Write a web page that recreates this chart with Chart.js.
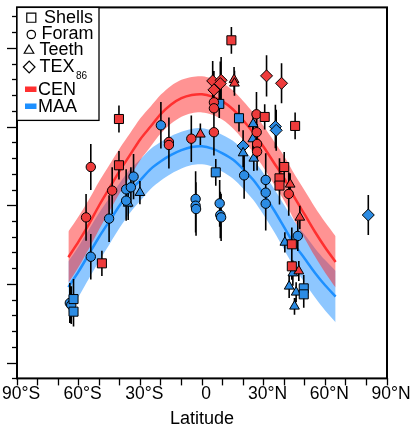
<!DOCTYPE html>
<html>
<head>
<meta charset="utf-8">
<script src="https://cdn.jsdelivr.net/npm/chart.js@4/dist/chart.umd.min.js"></script>
<style>
  body { margin: 0; background: #fff; }
</style>
</head>
<body>
<canvas id="grafico" width="414" height="432"></canvas>
<script>
// fitted curves (read every 5 degrees of latitude)
const curveLat = [-65, -60, -55, -50, -45, -40, -35, -30, -25, -20, -15, -10, -5, 0, 5, 10, 15, 20, 25, 30, 35, 40, 45, 50, 55, 60, 65];
const cenMid = [11.7, 12.7, 13.8, 15.0, 16.1, 17.2, 18.2, 19.2, 20.0, 20.8, 21.4, 21.8, 22.0, 22.05, 21.9, 21.6, 21.1, 20.4, 19.6, 18.7, 17.7, 16.7, 15.5, 14.4, 13.3, 12.3, 11.4];
const cenUpper = [13.33, 14.3, 15.36, 16.52, 17.57, 18.62, 19.57, 20.52, 21.27, 22.03, 22.6, 22.97, 23.15, 23.2, 23.05, 22.77, 22.3, 21.63, 20.87, 20.02, 19.07, 18.12, 16.97, 15.92, 14.86, 13.9, 13.03];
const cenLower = [10.07, 11.1, 12.24, 13.48, 14.63, 15.78, 16.83, 17.88, 18.73, 19.57, 20.2, 20.63, 20.85, 20.9, 20.75, 20.43, 19.9, 19.17, 18.33, 17.38, 16.33, 15.28, 14.03, 12.88, 11.74, 10.7, 9.77];
const maaMid = [9.8, 10.8, 11.9, 13.0, 14.0, 15.0, 15.9, 16.6, 17.3, 17.8, 18.2, 18.5, 18.7, 18.75, 18.6, 18.3, 17.9, 17.3, 16.6, 15.7, 14.7, 13.6, 12.5, 11.6, 10.7, 9.9, 9.2];
const maaUpper = [11.43, 12.4, 13.46, 14.52, 15.47, 16.42, 17.27, 17.92, 18.57, 19.03, 19.4, 19.67, 19.85, 19.9, 19.75, 19.47, 19.1, 18.53, 17.87, 17.02, 16.07, 15.02, 13.97, 13.12, 12.26, 11.5, 10.83];
const maaLower = [8.17, 9.2, 10.34, 11.48, 12.53, 13.58, 14.53, 15.28, 16.03, 16.57, 17.0, 17.33, 17.55, 17.6, 17.45, 17.13, 16.7, 16.07, 15.33, 14.38, 13.33, 12.18, 11.03, 10.08, 9.14, 8.3, 7.57];

// MAA proxy points
const maaLat = [-64.3, -63.6, -62.5, -62.5, -54.1, -45.2, -36.9, -36.9, -35.9, -34.6, -33.3, -30.2, -20.0, -3.1, -3.1, -2.9, 8.4, 6.7, 8.6, 8.9, 9.3, 18.0, 20.0, 20.0, 20.5, 24.9, 24.7, 25.2, 35.7, 36.1, 31.0, 31.0, 31.0, 80.9, 40.3, 46.6, 42.4, 45.8, 45.0, 49.5, 49.5, 44.2];
const maaTemp = [8.79, 8.66, 9.04, 8.24, 11.73, 14.15, 16.01, 15.29, 15.12, 16.14, 16.82, 15.8, 20.08, 15.4, 14.97, 14.76, 21.44, 17.09, 15.12, 14.38, 14.23, 20.53, 18.77, 18.32, 16.9, 20.17, 19.21, 17.98, 20.0, 19.76, 16.61, 15.8, 15.1, 14.38, 12.64, 13.05, 9.85, 9.47, 8.58, 9.72, 9.34, 10.69];
const maaErr = [1.27, 1.2, 1.27, 0.95, 1.44, 1.48, 1.27, 1.27, 1.06, 1.27, 1.44, 0.74, 1.48, 1.76, 1.7, 1.7, 0.9, 0.85, 1.48, 1.48, 1.5, 0.85, 1.0, 0.9, 1.48, 0.8, 0.8, 0.8, 1.38, 1.3, 1.7, 1.7, 1.7, 1.27, 0.64, 0.95, 0.74, 0.64, 0.53, 0.85, 0.85, 0.8];
const maaProxy = ["foram", "foram", "shell", "shell", "foram", "foram", "foram", "foram", "teeth", "foram", "foram", "teeth", "foram", "foram", "foram", "foram", "shell", "shell", "foram", "foram", "foram", "shell", "tex", "teeth", "foram", "teeth", "teeth", "teeth", "tex", "tex", "foram", "foram", "foram", "tex", "teeth", "foram", "teeth", "teeth", "teeth", "shell", "shell", "teeth"];

// CEN proxy points
const cenLat = [-56.4, -54.1, -48.7, -43.7, -40.4, -40.4, -16.1, -16.1, -5.2, -0.8, 5.8, 5.8, 5.8, 5.2, 5.8, 9.3, 8.9, 14.3, 15.6, 15.8, 31.4, 38.7, 26.5, 30.5, 26.6, 26.8, 26.8, 45.3, 40.0, 37.7, 37.7, 42.9, 42.2, 47.6, 43.7, 43.7, 47.1];
const cenTemp = [14.23, 17.43, 11.31, 15.93, 20.48, 17.54, 19.02, 18.83, 19.23, 19.51, 19.64, 21.54, 21.16, 22.9, 22.33, 22.94, 22.73, 25.48, 22.98, 22.75, 23.22, 22.75, 20.78, 20.61, 19.64, 18.89, 18.41, 20.04, 17.43, 16.71, 16.25, 16.33, 15.72, 14.23, 12.52, 11.12, 10.82];
const cenErr = [1.48, 1.46, 0.8, 1.48, 0.85, 0.9, 1.55, 1.5, 1.48, 0.68, 1.48, 1.38, 1.38, 1.27, 1.2, 1.48, 1.4, 0.85, 0.8, 0.8, 1.31, 1.27, 1.42, 0.8, 1.27, 1.27, 1.2, 0.85, 0.95, 1.27, 1.2, 0.7, 1.38, 0.74, 1.06, 0.85, 0.64];
const cenProxy = ["foram", "foram", "shell", "foram", "shell", "shell", "foram", "foram", "foram", "teeth", "foram", "foram", "foram", "tex", "tex", "tex", "tex", "shell", "teeth", "teeth", "tex", "tex", "foram", "shell", "foram", "foram", "foram", "shell", "shell", "shell", "shell", "teeth", "foram", "teeth", "shell", "shell", "teeth"];

const latTicks = [-90, -60, -30, 0, 30, 60, 90];
const latLabels = ["90°S", "60°S", "30°S", "0", "30°N", "60°N", "90°N"];

const FONT = "'Liberation Sans', Arial, Helvetica, sans-serif";
const RED_LINE = "#ff3030";
const BLUE_LINE = "#1e90ff";
const RED_FILL = "#ee3b3b";
const BLUE_FILL = "#2c8ce4";

const proxies = ["shell", "foram", "teeth", "tex"];
const pointStyles = { shell: "rect", foram: "circle", teeth: "triangle", tex: "rectRot" };
const pointSizes = { shell: 6.4, foram: 4.7, teeth: 5.6, tex: 6 };

const curve = (values) => curveLat.map((x, i) => ({ x, y: values[i] }));

function markers(lat, temp, proxy, color, order) {
    return proxies.map(p => ({
        type: "scatter",
        data: lat.map((x, i) => ({ x, y: temp[i], p: proxy[i] })).filter(d => d.p === p),
        pointStyle: pointStyles[p],
        pointRadius: pointSizes[p],
        pointHoverRadius: pointSizes[p],
        backgroundColor: color,
        borderColor: "#000",
        borderWidth: 1,
        order: order
    }));
}

function errorBars(lat, temp, err) {
    const pts = [];
    lat.forEach((x, i) => {
        pts.push({ x, y: temp[i] - err[i] }, { x, y: temp[i] + err[i] }, { x, y: null });
    });
    return {
        type: "line",
        data: pts,
        borderColor: "#000",
        borderWidth: 1.6,
        pointRadius: 0,
        spanGaps: false,
        fill: false,
        order: 2
    };
}

const band = (values, color, fill, order) => ({
    type: "line",
    data: curve(values),
    borderWidth: 0,
    borderColor: "rgba(0,0,0,0)",
    backgroundColor: color,
    pointRadius: 0,
    tension: 0.3,
    fill: fill,
    order: order
});

const centerLine = (values, color) => ({
    type: "line",
    data: curve(values),
    borderColor: color,
    borderWidth: 2.5,
    pointRadius: 0,
    tension: 0.3,
    fill: false,
    order: 3
});

// frame around the plot + short/long ticks on the left
const frame = {
    id: "frame",
    afterDraw(chart) {
        const { ctx, chartArea: a, scales: { y } } = chart;
        ctx.save();
        ctx.strokeStyle = "#000";
        ctx.lineWidth = 1.3;
        for (let v = Math.ceil(y.min); v <= y.max; v++) {
            const py = Math.round(y.getPixelForValue(v)) + 0.5;
            const len = v % 5 === 0 ? 10 : 5;
            ctx.beginPath();
            ctx.moveTo(a.left - len, py);
            ctx.lineTo(a.left, py);
            ctx.stroke();
        }
        ctx.lineWidth = 2;
        ctx.strokeRect(a.left, a.top, a.right - a.left, a.bottom - a.top);
        ctx.restore();
    }
};

const legend = {
    id: "legendBox",
    afterDraw(chart) {
        const ctx = chart.ctx;
        const a = chart.chartArea;
        ctx.save();
        ctx.fillStyle = "#fff";
        ctx.fillRect(a.left, a.top, 82, 113);
        ctx.strokeStyle = "#000";
        ctx.lineWidth = 1.3;
        ctx.strokeRect(a.left, a.top, 82, 113);

        const items = [
            ["rect", 6.4, 31.3, 17.7, "Shells", 44, 18.5],
            ["circle", 4.2, 31.3, 34.5, "Foram", 41.5, 34.5],
            ["triangle", 5.5, 29, 50.5, "Teeth", 39.5, 50.5],
            ["rectRot", 5.8, 29.2, 67, "TEX", 39.5, 67]
        ];
        ctx.font = "18px " + FONT;
        ctx.textBaseline = "middle";
        items.forEach(([style, r, px, py, text, tx, ty]) => {
            ctx.fillStyle = "#fff";
            ctx.strokeStyle = "#000";
            ctx.lineWidth = 1.2;
            Chart.helpers.drawPoint(ctx, { pointStyle: style, radius: r, borderWidth: 1.2, rotation: 0 }, px, py);
            ctx.fillStyle = "#000";
            ctx.fillText(text, tx, ty);
        });
        ctx.font = "10px " + FONT;
        ctx.fillText("86", 76, 76.5);

        ctx.font = "18px " + FONT;
        ctx.fillStyle = RED_LINE;
        ctx.fillRect(25, 86.5, 11.5, 5.5);
        ctx.fillStyle = "#000";
        ctx.fillText("CEN", 38, 90.5);
        ctx.fillStyle = BLUE_LINE;
        ctx.fillRect(25, 103.5, 11.5, 5.5);
        ctx.fillStyle = "#000";
        ctx.fillText("MAA", 38, 107);
        ctx.restore();
    }
};

const datasets = [
    ...markers(cenLat, cenTemp, cenProxy, RED_FILL, 0),
    ...markers(maaLat, maaTemp, maaProxy, BLUE_FILL, 1),
    errorBars(cenLat, cenTemp, cenErr),
    errorBars(maaLat, maaTemp, maaErr),
    centerLine(cenMid, RED_LINE),
    centerLine(maaMid, BLUE_LINE),
    band(cenUpper, "rgba(255, 40, 40, 0.5)", "+1", 4),
    band(cenLower, "rgba(0,0,0,0)", false, 4),
    band(maaUpper, "rgba(30, 144, 255, 0.5)", "+1", 5),
    band(maaLower, "rgba(0,0,0,0)", false, 5)
];

new Chart(document.getElementById("grafico"), {
    type: "scatter",
    data: { datasets: datasets },
    options: {
        responsive: false,
        animation: false,
        devicePixelRatio: 1,
        layout: { padding: { left: 17, top: 5, right: 27, bottom: 2 } },
        plugins: {
            legend: { display: false },
            tooltip: { enabled: false }
        },
        scales: {
            x: {
                type: "linear",
                min: -90,
                max: 90,
                afterFit: s => { s.paddingLeft = 0; s.paddingRight = 0; },
                border: { display: false },
                grid: {
                    drawOnChartArea: false,
                    drawTicks: true,
                    tickLength: 7,
                    tickColor: "#000",
                    tickWidth: 1.3
                },
                ticks: {
                    stepSize: 10,
                    autoSkip: false,
                    maxRotation: 0,
                    padding: -2,
                    labelOffset: 4,
                    color: "#000",
                    font: { family: FONT, size: 17.5 },
                    callback: v => {
                        const i = latTicks.indexOf(v);
                        return i >= 0 ? latLabels[i] : "";
                    }
                },
                title: {
                    display: true,
                    text: "Latitude",
                    color: "#000",
                    font: { family: FONT, size: 18 },
                    padding: { top: 6, bottom: 0 }
                }
            },
            y: {
                display: false,
                min: 4,
                max: 27.57
            }
        }
    },
    plugins: [frame, legend]
});
</script>
</body>
</html>
